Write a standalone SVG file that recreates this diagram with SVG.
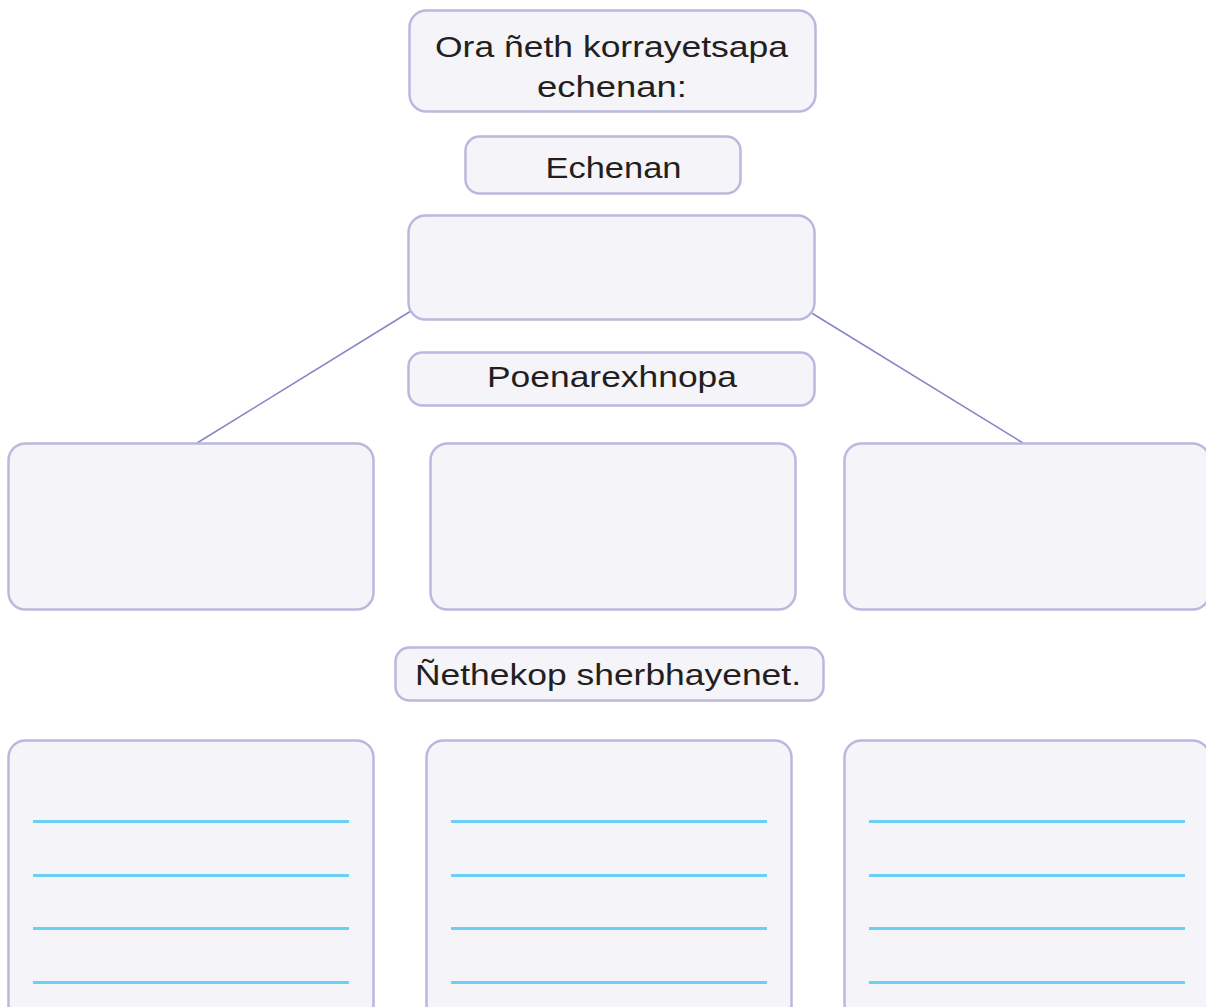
<svg xmlns="http://www.w3.org/2000/svg" width="1206" height="1007" viewBox="0 0 1206 1007">
<style>
.box{fill:#f4f4f9;stroke:#b9b9df;stroke-width:2.5}
.t{font-family:"Liberation Sans","DejaVu Sans",sans-serif;font-size:30px;fill:#231f20}
.rule{stroke:#6dcff6;stroke-width:3}
.conn{stroke:#8587c6;stroke-width:1.6;fill:none}
</style>
<rect width="1206" height="1007" fill="#ffffff"/>
<g id="connectors">
<line class="conn" x1="411" y1="311" x2="197" y2="443"/>
<line class="conn" x1="810" y1="312" x2="1023" y2="443"/>
</g>
<g id="title">
<rect class="box" x="409.5" y="10.5" width="406" height="101" rx="17"/>
<text class="t" x="435" y="57" textLength="353" lengthAdjust="spacingAndGlyphs">Ora ñeth korrayetsapa</text>
<text class="t" x="537" y="97" textLength="150" lengthAdjust="spacingAndGlyphs">echenan:</text>
</g>
<g id="echenan">
<rect class="box" x="465.5" y="136.5" width="275" height="57" rx="14"/>
<text class="t" x="545.5" y="178" textLength="136" lengthAdjust="spacingAndGlyphs">Echenan</text>
</g>
<g id="main-box">
<rect class="box" x="408.5" y="215.5" width="406" height="104" rx="17"/>
</g>
<g id="poenarexhnopa">
<rect class="box" x="408.5" y="352.5" width="406" height="53" rx="14"/>
<text class="t" x="487" y="387" textLength="250" lengthAdjust="spacingAndGlyphs">Poenarexhnopa</text>
</g>
<g id="box-left">
<rect class="box" x="8.5" y="443.5" width="365" height="166" rx="17"/>
</g>
<g id="box-middle">
<rect class="box" x="430.5" y="443.5" width="365" height="166" rx="17"/>
</g>
<g id="box-right">
<rect class="box" x="844.5" y="443.5" width="365" height="166" rx="17"/>
</g>
<g id="nethekop">
<rect class="box" x="395.5" y="647.5" width="428" height="53" rx="14"/>
<text class="t" x="415" y="685" textLength="386" lengthAdjust="spacingAndGlyphs">Ñethekop sherbhayenet.</text>
</g>
<g id="lines-left">
<rect class="box" x="8.5" y="740.5" width="365" height="290" rx="17"/>
<line class="rule" x1="33" y1="821.5" x2="349" y2="821.5"/>
<line class="rule" x1="33" y1="875.5" x2="349" y2="875.5"/>
<line class="rule" x1="33" y1="928.5" x2="349" y2="928.5"/>
<line class="rule" x1="33" y1="982.5" x2="349" y2="982.5"/>
</g>
<g id="lines-middle">
<rect class="box" x="426.5" y="740.5" width="365" height="290" rx="17"/>
<line class="rule" x1="451" y1="821.5" x2="767" y2="821.5"/>
<line class="rule" x1="451" y1="875.5" x2="767" y2="875.5"/>
<line class="rule" x1="451" y1="928.5" x2="767" y2="928.5"/>
<line class="rule" x1="451" y1="982.5" x2="767" y2="982.5"/>
</g>
<g id="lines-right">
<rect class="box" x="844.5" y="740.5" width="365" height="290" rx="17"/>
<line class="rule" x1="869" y1="821.5" x2="1185" y2="821.5"/>
<line class="rule" x1="869" y1="875.5" x2="1185" y2="875.5"/>
<line class="rule" x1="869" y1="928.5" x2="1185" y2="928.5"/>
<line class="rule" x1="869" y1="982.5" x2="1185" y2="982.5"/>
</g>
</svg>
